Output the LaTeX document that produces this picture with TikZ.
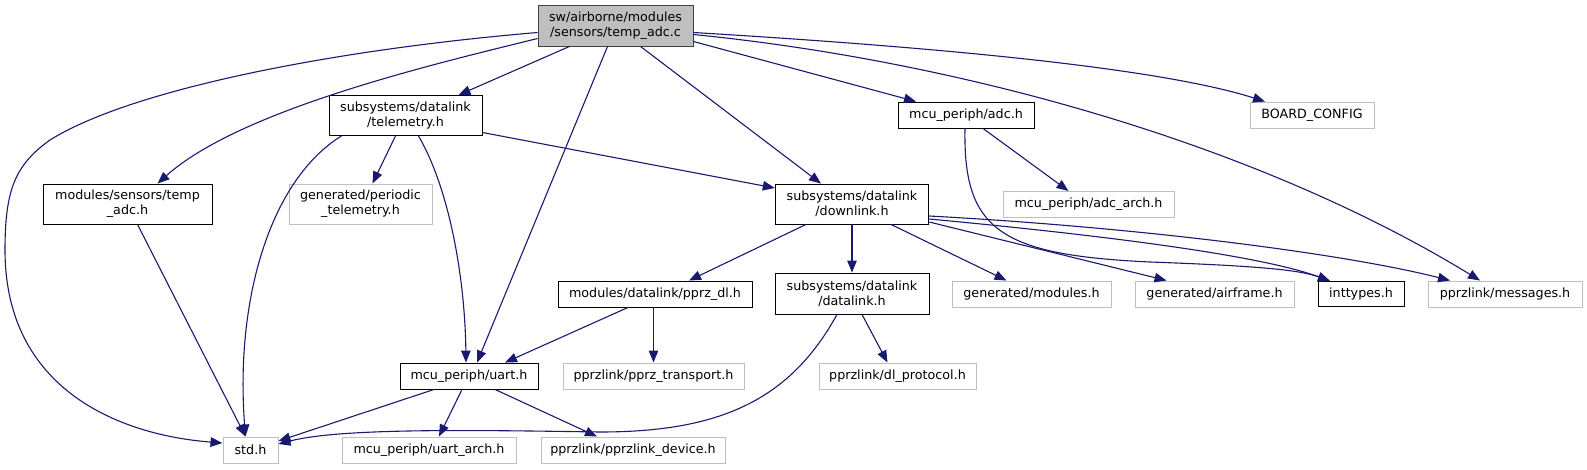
\documentclass[tikz,border=0pt]{standalone}
\usepackage{fontspec}
\setmainfont{DejaVu Sans}
\definecolor{EdgeBlue}{RGB}{25, 25, 112}
\definecolor{LightGrey}{RGB}{191, 191, 191}
\definecolor{DarkGrey}{RGB}{64, 64, 64}
\usetikzlibrary{arrows.meta, positioning}

\begin{document}
\begin{tikzpicture}[x=1pt, y=-1pt, >={Triangle[length=12pt, width=9.5pt]},
    every node/.style={font=\fontsize{12.7}{15}\selectfont, inner sep=0pt, align=center},
    hdr/.style={draw=black, line width=0.9pt, fill=white},
    ext/.style={draw=LightGrey, line width=1pt, fill=white},
    dep/.style={->, EdgeBlue, line width=1.1pt}]
    \useasboundingbox (0,0) rectangle (1587,469);
    % files
    \node[hdr, fill=LightGrey, draw=DarkGrey, minimum width=155, minimum height=41] (main) at (615.5,25.5) {sw/airborne/modules\\/sensors/temp\_adc.c};
    \node[hdr, minimum width=153, minimum height=40] (telemetry) at (405.5,115.5) {subsystems/datalink\\/telemetry.h};
    \node[hdr, minimum width=136, minimum height=26] (adc) at (966,115) {mcu\_periph/adc.h};
    \node[ext, minimum width=124, minimum height=26] (board) at (1312,115) {BOARD\_CONFIG};
    \node[hdr, minimum width=169, minimum height=40] (tempadc) at (127.5,204) {modules/sensors/temp\\\_adc.h};
    \node[ext, minimum width=143, minimum height=40] (periodic) at (360.5,204) {generated/periodic\\\_telemetry.h};
    \node[hdr, minimum width=153.5, minimum height=40] (downlink) at (852,204) {subsystems/datalink\\/downlink.h};
    \node[ext, minimum width=171, minimum height=26] (adcarch) at (1088.5,204.5) {mcu\_periph/adc\_arch.h};
    \node[hdr, minimum width=194, minimum height=26] (pprzdl) at (655,294) {modules/datalink/pprz\_dl.h};
    \node[hdr, minimum width=154, minimum height=41] (datalink) at (852,293.5) {subsystems/datalink\\/datalink.h};
    \node[ext, minimum width=159, minimum height=26] (modules) at (1031.5,294) {generated/modules.h};
    \node[ext, minimum width=159, minimum height=26] (airframe) at (1214.5,294) {generated/airframe.h};
    \node[hdr, minimum width=86, minimum height=25] (inttypes) at (1361,294) {inttypes.h};
    \node[ext, minimum width=154, minimum height=26] (messages) at (1505,294) {pprzlink/messages.h};
    \node[hdr, minimum width=138, minimum height=26] (uart) at (469,376) {mcu\_periph/uart.h};
    \node[ext, minimum width=181, minimum height=26] (transport) at (653.5,376) {pprzlink/pprz\_transport.h};
    \node[ext, minimum width=157, minimum height=26] (dlproto) at (897.5,376) {pprzlink/dl\_protocol.h};
    \node[ext, minimum width=55, minimum height=26] (std) at (250.5,450) {std.h};
    \node[ext, minimum width=174, minimum height=26] (uartarch) at (429,450) {mcu\_periph/uart\_arch.h};
    \node[ext, minimum width=184, minimum height=26] (device) at (633,450) {pprzlink/pprzlink\_device.h};
    % includes of temp_adc.c
    \draw[dep] ([yshift=-7]main.west) .. controls (330,50) and (130,90) .. (50,140) .. controls (15,165) and (5,190) .. (5,250) .. controls (5,390) and (120,435) .. ([yshift=7]std.west);
    \draw[dep] ([yshift=-13]main.west) .. controls (430,65) and (240,110) .. ([xshift=30]tempadc.north);
    \draw[dep] ([xshift=-46]main.south) -- ([xshift=53]telemetry.north);
    \draw[dep] ([xshift=-8]main.south) -- ([xshift=8]uart.north);
    \draw[dep] ([xshift=25]main.south) -- ([xshift=-31]downlink.north);
    \draw[dep] ([yshift=-16]main.east) -- ([xshift=-50]adc.north);
    \draw[dep] ([yshift=-7]main.east) .. controls (900,45) and (1150,65) .. ([xshift=-47]board.north);
    \draw[dep] ([yshift=-9]main.east) .. controls (950,60) and (1250,140) .. ([xshift=-25]messages.north);
    % telemetry.h
    \draw[dep] ([xshift=-64]telemetry.south) .. controls (270,180) and (235,300) .. ([xshift=-5]std.north);
    \draw[dep] ([xshift=-10]telemetry.south) -- ([xshift=12]periodic.north);
    \draw[dep] ([xshift=13]telemetry.south) .. controls (450,190) and (465,280) .. ([xshift=-3]uart.north);
    \draw[dep] ([yshift=-17]telemetry.east) -- ([yshift=16]downlink.west);
    \draw[dep] ([xshift=10]tempadc.south) -- ([xshift=-5]std.north);
    % adc.h
    \draw[dep] ([xshift=17]adc.south) -- ([xshift=-20]adcarch.north);
    \draw[dep] ([xshift=-1]adc.south) .. controls (963,230) and (1000,255) .. (1150,262) .. controls (1260,266) and (1300,270) .. ([xshift=-31]inttypes.north);
    % downlink.h
    \draw[dep] ([xshift=-46]downlink.south) -- ([xshift=34]pprzdl.north);
    \draw[dep] (downlink.south) -- (datalink.north);
    \draw[dep] ([xshift=39]downlink.south) -- ([xshift=-25]modules.north);
    \draw[dep] ([yshift=-18]downlink.east) -- ([xshift=-48]airframe.north);
    \draw[dep] ([yshift=-15]downlink.east) .. controls (1100,235) and (1260,255) .. ([xshift=-31]inttypes.north);
    \draw[dep] ([yshift=-12]downlink.east) .. controls (1150,228) and (1350,255) .. ([xshift=-55]messages.north);
    \draw[dep] ([xshift=-27]pprzdl.south) -- ([xshift=36]uart.north);
    \draw[dep] ([xshift=-1.5]pprzdl.south) -- (transport.north);
    \draw[dep] ([xshift=-15]datalink.south) .. controls (790,400) and (720,432) .. (600,432) .. controls (470,430) and (340,428) .. ([yshift=6]std.east);
    \draw[dep] ([xshift=10]datalink.south) -- ([xshift=-10]dlproto.north);
    % uart.h
    \draw[dep] ([xshift=-35]uart.south) -- ([yshift=9]std.east);
    \draw[dep] ([xshift=-7]uart.south) -- ([xshift=10]uartarch.north);
    \draw[dep] ([xshift=26]uart.south) -- ([xshift=-36]device.north);
\end{tikzpicture}
\end{document}
